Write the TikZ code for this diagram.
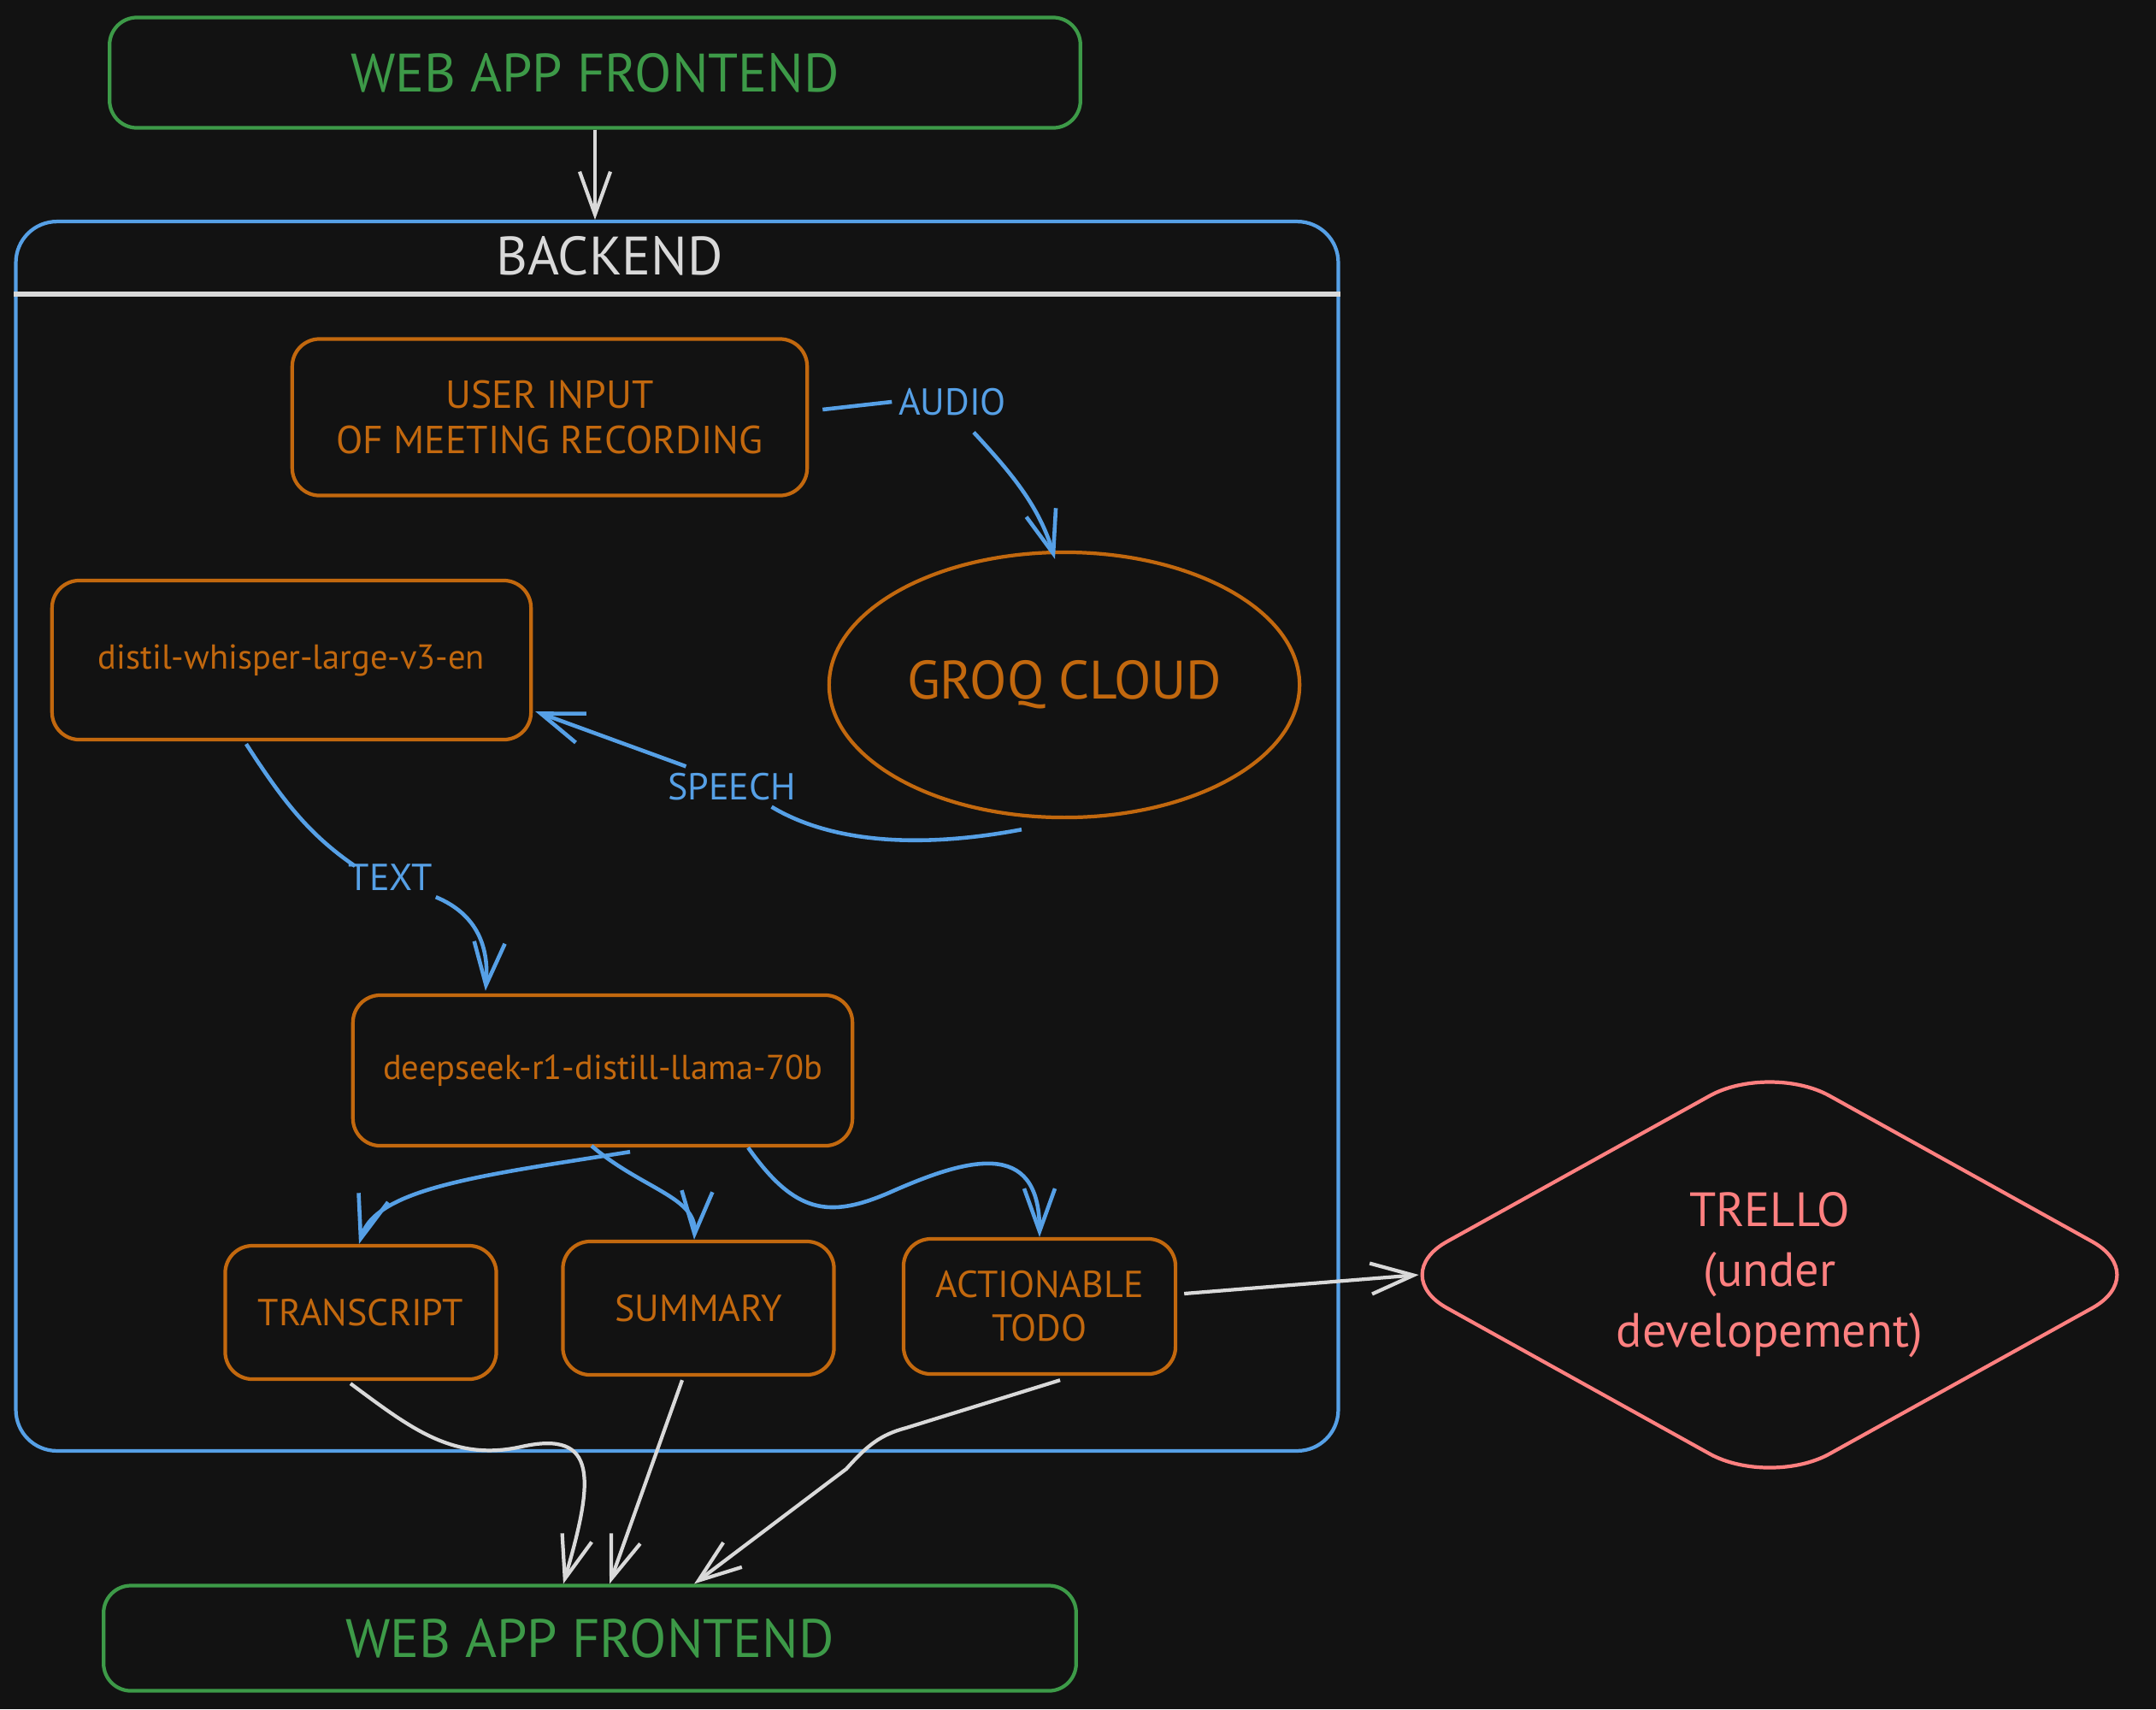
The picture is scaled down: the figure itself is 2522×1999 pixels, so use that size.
\documentclass[tikz,border=0pt]{standalone}
\usepackage{fontspec}
\setmainfont{PT Sans}
\usetikzlibrary{arrows.meta,shapes.geometric}
\definecolor{bgc}{HTML}{121212}
\definecolor{grn}{HTML}{3D9A48}
\definecolor{org}{HTML}{C2680E}
\definecolor{blu}{HTML}{56A0E6}
\definecolor{crl}{HTML}{FF8080}
\definecolor{wln}{HTML}{D9D9D9}
\begin{document}
\begin{tikzpicture}[x=0.01cm,y=-0.01cm,
  box/.style={draw, rounded corners=3.2mm, line width=1.2pt, inner sep=0pt, align=center},
  obox/.style={box, draw=org, text=org},
  gbox/.style={box, draw=grn, text=grn, font=\fontsize{18}{20}\selectfont},
  lbl/.style={text=blu, inner sep=2pt, font=\fontsize{12.5}{14}\selectfont},
  warrow/.style={draw=wln, line width=1.2pt, -{Straight Barb[length=5mm,width=3.6mm]}},
  barrow/.style={draw=blu, line width=1.3pt, -{Straight Barb[length=5mm,width=3.6mm]}},
  bline/.style={draw=blu, line width=1.3pt}]
\fill[bgc] (0,0) rectangle (2522,1999);
\useasboundingbox (0,0) rectangle (2522,1999);

% frontends
\node[gbox, minimum width=11.35cm, minimum height=1.29cm] (topfront) at (696,85) {WEB APP FRONTEND};
\node[gbox, minimum width=11.37cm, minimum height=1.23cm] (botfront) at (690,1916) {WEB APP FRONTEND};

% backend container
\node[draw=blu, line width=1.2pt, rounded corners=4.8mm, minimum width=15.46cm, minimum height=14.37cm, inner sep=0] (bend) at (792,978) {};
\coordinate (sepy) at (0,344);
\draw[wln, line width=1.6pt] (bend.west |- sepy) -- (bend.east |- sepy);
\node[text=wln, font=\fontsize{18}{20}\selectfont] (backlabel) at (713,299) {BACKEND};

% inner nodes
\node[obox, minimum width=6.02cm, minimum height=1.83cm, font=\fontsize{13}{15}\selectfont] (user) at (643,488) {USER INPUT\\OF MEETING RECORDING};
\node[draw=org, ellipse, line width=1.2pt, inner sep=0pt, minimum width=5.5cm, minimum height=3.1cm, text=org, font=\fontsize{18}{20}\selectfont] (groq) at (1245,801) {GROQ CLOUD};
\node[obox, minimum width=5.6cm, minimum height=1.86cm, font=\fontsize{11.5}{13}\selectfont] (whisper) at (341,772) {distil-whisper-large-v3-en};
\node[obox, minimum width=5.84cm, minimum height=1.76cm, font=\fontsize{11.5}{13}\selectfont] (deep) at (705,1252) {deepseek-r1-distill-llama-70b};
\node[obox, minimum width=3.17cm, minimum height=1.56cm, font=\fontsize{12.5}{14}\selectfont] (trans) at (422,1535) {TRANSCRIPT};
\node[obox, minimum width=3.17cm, minimum height=1.56cm, font=\fontsize{12.5}{14}\selectfont] (summ) at (817,1530) {SUMMARY};
\node[obox, minimum width=3.18cm, minimum height=1.58cm, font=\fontsize{12.5}{14.5}\selectfont] (todo) at (1216,1528) {ACTIONABLE\\TODO};

% trello
\node[draw=crl, diamond, aspect=1.77, line width=1.2pt, inner sep=0pt, minimum width=8.96cm, minimum height=4.98cm, rounded corners=8mm, text=crl, align=center, font=\fontsize{16}{20}\selectfont] (trello) at (2070,1491) {TRELLO\\(under\\developement)};

% labels
\node[lbl] (audio) at (1114,470) {AUDIO};
\node[lbl] (speech) at (856,920) {SPEECH};
\node[lbl] (text) at (457,1026) {TEXT};

% connectors
\draw[warrow] (topfront.south) -- (topfront.south |- bend.north);

\draw[bline] ([xshift=1.6mm,yshift=0.9mm]user.east) -- (audio.west);
\draw[barrow] ([xshift=2.5mm,yshift=-1.2mm]audio.south) .. controls (1180,550) and (1215,590) .. ([xshift=-1.1mm,yshift=-1mm]groq.north);

\draw[bline] ([xshift=-5mm,yshift=-1.2mm]groq.south) .. controls (1090,990) and (980,990) .. ([xshift=-3.6mm]speech.south east);
\draw[barrow] ([xshift=2.9mm]speech.north west) -- ([xshift=0.3mm,yshift=3.5mm]whisper.south east);

\draw[bline] ([xshift=-5.3mm,yshift=-0.3mm]whisper.south) .. controls (330,935) and (360,975) .. ([xshift=1.5mm,yshift=-1mm]text.north west);
\draw[barrow] ([xshift=-0.4mm]text.south east) .. controls (560,1070) and (572,1110) .. ([xshift=-13.7mm,yshift=0.3mm]deep.north);

\draw[barrow] ([xshift=3.2mm,yshift=-0.5mm]deep.south) .. controls (560,1375) and (440,1390) .. ([xshift=-0.2mm]trans.north);
\draw[barrow] ([xshift=-1.3mm,yshift=0.2mm]deep.south) .. controls (750,1390) and (815,1400) .. ([xshift=-0.5mm]summ.north);
\draw[barrow] ([xshift=17mm]deep.south) .. controls (930,1420) and (970,1425) .. (1040,1395) .. controls (1130,1355) and (1216,1330) .. (todo.north);

\draw[warrow] ([xshift=0.8mm,yshift=1.5mm]todo.east) -- ([xshift=4mm]trello.west);

\draw[warrow] ([xshift=-1.2mm,yshift=-0.3mm]trans.south) .. controls (480,1670) and (530,1710) .. (610,1692) .. controls (700,1672) and (695,1730) .. ([xshift=-3.1mm]botfront.north);
\draw[warrow] ([xshift=-1.9mm,yshift=-0.4mm]summ.south) -- ([xshift=2.3mm]botfront.north);
\draw[warrow] ([xshift=2.4mm,yshift=-0.5mm]todo.south) -- (1060,1670) .. controls (1030,1678) and (1015,1690) .. (990,1718) -- ([xshift=12.2mm]botfront.north);
\end{tikzpicture}
\end{document}
